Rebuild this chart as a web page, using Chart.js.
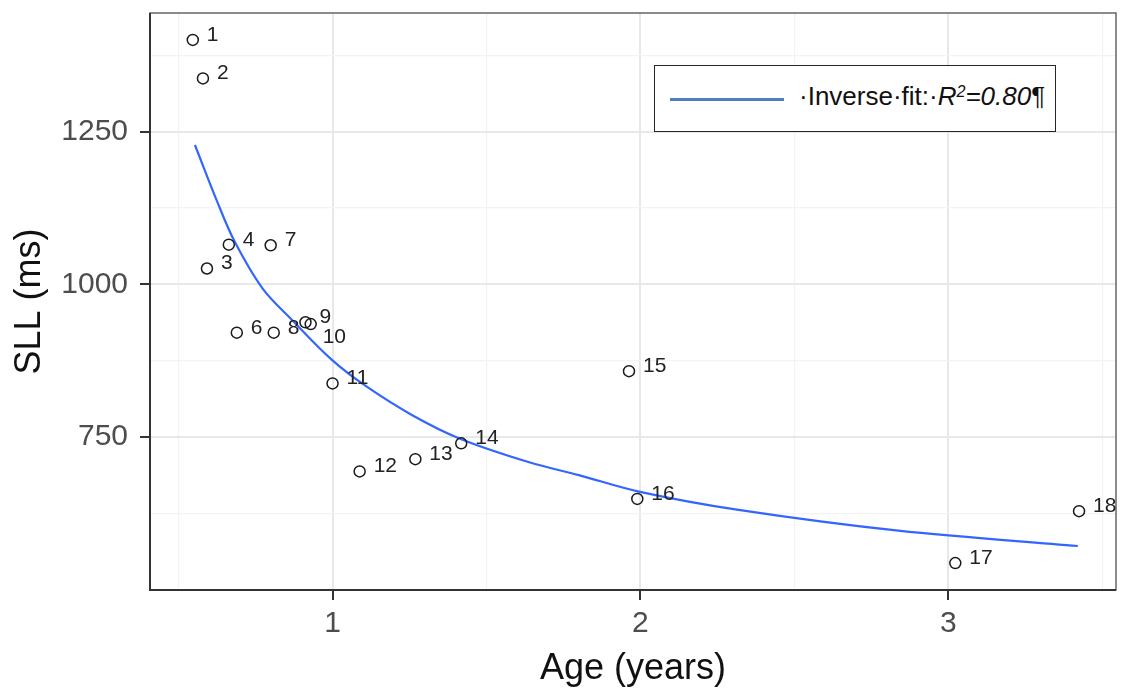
<!DOCTYPE html>
<html>
<head>
<meta charset="utf-8">
<title>SLL by age</title>
<script src="https://cdn.jsdelivr.net/npm/chart.js@4/dist/chart.umd.min.js"></script>
<style>
    html, body { margin: 0; padding: 0; background: #fff; }
    #wrap { position: relative; width: 1123px; height: 689px; }
    #legendBox {
        position: absolute; left: 654px; top: 65px; width: 402px; height: 67px;
        box-sizing: border-box; border: 1.5px solid #262626; background: #fff;
        font-family: "Liberation Sans", Arial, sans-serif; color: #111;
    }
    #legendBox .swatch { position: absolute; left: 15px; top: 32px; width: 114px; height: 3px; background: #4f7fc0; }
    #legendBox .txt { position: absolute; left: 144px; top: 17px; font-size: 26px; line-height: 26px; white-space: nowrap; }
    #legendBox sup { font-size: 0.62em; vertical-align: baseline; position: relative; top: -0.5em; }
</style>
</head>
<body>
<div id="wrap">
    <canvas id="sllChart" width="1123" height="689"></canvas>
    <div id="legendBox"><span class="swatch"></span><span class="txt">·Inverse·fit:·<i>R<sup>2</sup>=0.80</i>¶</span></div>
</div>
<script>
// subject numbers, age (years) and SLL (ms)
const pointIds = [1, 2, 3, 4, 6, 7, 8, 9, 10, 11, 12, 13, 14, 15, 16, 17, 18];
const ageYears = [0.546, 0.579, 0.592, 0.663, 0.689, 0.799, 0.809, 0.912, 0.929, 1.0, 1.088, 1.269, 1.418, 1.963, 1.99, 3.023, 3.425];
const sllMs = [1400, 1337, 1026, 1065, 921, 1064, 921, 938, 935, 838, 694, 714, 740, 858, 649, 544, 629];

// inverse fit curve, sampled along the drawn line
const fitAge = [0.553, 0.624, 0.682, 0.773, 0.870, 0.997, 1.11, 1.259, 1.412, 1.639, 1.80, 1.995, 2.319, 2.838, 3.421];
const fitSll = [1228, 1137, 1070, 993, 941, 877, 833, 786, 748, 709, 688, 661, 631, 597, 572];

// grid values (major get a label, minor only a light line)
const xGridValues = [0.5, 1, 1.5, 2, 2.5, 3, 3.5];
const xTickLabels = [1, 2, 3];
const yGridValues = [625, 750, 875, 1000, 1125, 1250, 1375];
const yTickLabels = [750, 1000, 1250];

const FONT = '"Liberation Sans", Arial, sans-serif';

// label "10" sits under "9" in the original
const labelNudge = { 10: [12, 19] };

const pointLabels = {
    id: 'pointLabels',
    afterDatasetsDraw(chart) {
        const ctx = chart.ctx;
        const meta = chart.getDatasetMeta(0);
        ctx.save();
        ctx.font = '21px ' + FONT;
        ctx.fillStyle = '#222';
        ctx.textAlign = 'left';
        ctx.textBaseline = 'alphabetic';
        meta.data.forEach((pt, i) => {
            const n = labelNudge[pointIds[i]] || [14, 1];
            ctx.fillText(String(pointIds[i]), pt.x + n[0], pt.y + n[1]);
        });
        ctx.restore();
    }
};

const panelBorder = {
    id: 'panelBorder',
    beforeDatasetsDraw(chart) {
        const { ctx, chartArea: a } = chart;
        ctx.save();
        ctx.strokeStyle = '#666';
        ctx.lineWidth = 1.5;
        ctx.strokeRect(a.left, a.top, a.right - a.left, a.bottom - a.top);
        ctx.strokeStyle = '#333';
        ctx.lineWidth = 2;
        ctx.beginPath();
        ctx.moveTo(a.left, a.top);
        ctx.lineTo(a.left, a.bottom);
        ctx.lineTo(a.right, a.bottom);
        ctx.stroke();
        ctx.restore();
    }
};

function gridColor(labels) {
    return c => labels.includes(c.tick.value) ? '#e8e8e8' : '#f3f3f3';
}
function gridWidth(labels) {
    return c => labels.includes(c.tick.value) ? 2 : 1.2;
}
function tickColor(labels) {
    return c => labels.includes(c.tick.value) ? '#333' : 'rgba(0,0,0,0)';
}

new Chart(document.getElementById('sllChart'), {
    type: 'scatter',
    data: {
        datasets: [{
            label: 'SLL',
            data: ageYears.map((a, i) => ({ x: a, y: sllMs[i] })),
            pointStyle: 'circle',
            pointRadius: 5.5,
            pointBorderWidth: 1.5,
            borderColor: '#1a1a1a',
            backgroundColor: 'rgba(0,0,0,0)',
        }, {
            type: 'line',
            label: 'Inverse fit',
            data: fitAge.map((a, i) => ({ x: a, y: fitSll[i] })),
            borderColor: '#3366ff',
            borderWidth: 2.2,
            pointRadius: 0,
            tension: 0.35,
            fill: false,
        }]
    },
    options: {
        responsive: false,
        animation: false,
        devicePixelRatio: 1,
        layout: { padding: { top: 13, right: 5, left: 0, bottom: 0 } },
        plugins: {
            legend: { display: false },
            tooltip: { enabled: false },
        },
        scales: {
            x: {
                type: 'linear',
                min: 0.407,
                max: 3.545,
                afterBuildTicks: s => { s.ticks = xGridValues.map(v => ({ value: v })); },
                afterFit: s => { s.height = 99; s.paddingLeft = 0; s.paddingRight = 0; },
                ticks: {
                    autoSkip: false,
                    maxRotation: 0,
                    padding: 6,
                    color: '#4d4d4d',
                    font: { family: FONT, size: 30 },
                    callback: v => xTickLabels.includes(v) ? String(v) : '',
                },
                grid: {
                    color: gridColor(xTickLabels),
                    lineWidth: gridWidth(xTickLabels),
                    tickColor: tickColor(xTickLabels),
                    tickWidth: 2,
                    tickLength: 10,
                },
                border: { display: false },
                title: {
                    display: true,
                    text: 'Age (years)',
                    color: '#111',
                    font: { family: FONT, size: 36, lineHeight: 1 },
                    padding: { top: 0, bottom: 2 },
                },
            },
            y: {
                min: 500,
                max: 1444,
                afterBuildTicks: s => { s.ticks = yGridValues.map(v => ({ value: v })); },
                afterFit: s => { s.width = 150; s.paddingTop = 0; s.paddingBottom = 0; },
                ticks: {
                    autoSkip: false,
                    padding: 12,
                    color: '#4d4d4d',
                    font: { family: FONT, size: 30 },
                    callback: v => yTickLabels.includes(v) ? String(v) : '',
                },
                grid: {
                    color: gridColor(yTickLabels),
                    lineWidth: gridWidth(yTickLabels),
                    tickColor: tickColor(yTickLabels),
                    tickWidth: 2,
                    tickLength: 10,
                },
                border: { display: false },
                title: {
                    display: true,
                    text: 'SLL (ms)',
                    color: '#111',
                    font: { family: FONT, size: 36, lineHeight: 1 },
                    padding: { top: 12, bottom: 0 },
                },
            },
        },
    },
    plugins: [panelBorder, pointLabels],
});
</script>
</body>
</html>
